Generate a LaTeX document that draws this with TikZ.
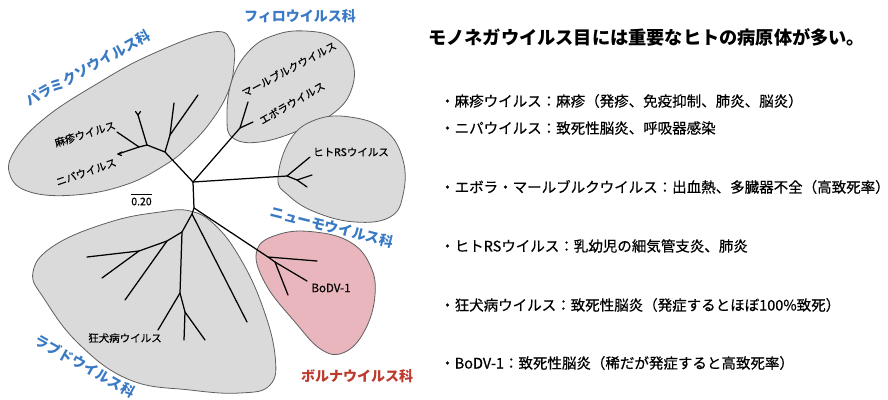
\documentclass[tikz,border=0pt]{standalone}
\usepackage{fontspec}
\setmainfont{Noto Sans CJK JP}
\newfontfamily\medfont[FakeBold=0.5]{Noto Sans CJK JP}
\definecolor{famblue}{RGB}{58,122,196}
\definecolor{famred}{RGB}{190,58,45}
\definecolor{blobgray}{RGB}{218,218,218}
\definecolor{blobpink}{RGB}{232,182,188}
\definecolor{edgegray}{RGB}{95,95,95}
\tikzset{
  branch/.style={line width=1.25pt, line cap=round, line join=round},
  blob/.style={draw=edgegray, line width=0.8pt, fill=blobgray},
  pinkblob/.style={draw=edgegray, line width=0.8pt, fill=blobpink},
  fam/.style={font=\bfseries\fontsize{14}{16}\selectfont, text=famblue, inner sep=0pt},
  famr/.style={font=\bfseries\fontsize{14}{16}\selectfont, text=famred, inner sep=0pt},
  lbl/.style={font=\medfont\fontsize{10.5}{12}\selectfont, inner sep=0pt},
  item/.style={anchor=west, font=\medfont\fontsize{14.5}{16}\selectfont, inner sep=0pt},
}
\begin{document}
\begin{tikzpicture}[x=1pt,y=-1pt]
\useasboundingbox (0,0) rectangle (888,399);
% blobs
\draw[blob] plot[smooth cycle, tension=0.7] coordinates {(213,32) (232,43) (234,65) (228,92) (212,120) (190,145) (165,165) (125,185) (75,195) (30,192) (10,175) (15,150) (45,118) (95,85) (150,55)};
\draw[blob] plot[smooth cycle, tension=0.7] coordinates {(227,118) (232,80) (250,50) (275,35) (305,31) (335,38) (352,60) (352,88) (335,112) (300,130) (260,142) (233,138)};
\draw[blob] plot[smooth cycle, tension=0.7] coordinates {(278,178) (290,140) (315,120) (350,117) (385,130) (403,160) (403,195) (390,217) (355,222) (315,212) (288,195)};
\draw[pinkblob] plot[smooth cycle, tension=0.7] coordinates {(257,250) (280,234) (315,232) (350,242) (370,265) (375,295) (365,330) (345,352) (322,350) (295,322) (265,283)};
\draw[blob] plot[smooth cycle, tension=0.7] coordinates {(190,211) (215,225) (240,258) (262,305) (275,355) (270,385) (240,393) (190,390) (130,380) (80,345) (45,300) (33,272) (55,245) (110,222) (160,212)};
% tree coordinates
\coordinate (U) at (193,182);
\coordinate (L) at (194,208);
\coordinate (P4) at (165,152);
\coordinate (P3) at (170,135);
\coordinate (P2) at (147,145);
\coordinate (P1) at (139,147);
\coordinate (pa) at (174,103);
\coordinate (pb) at (198,95);
\coordinate (pc) at (138,115);
\coordinate (mea) at (117,132);
\coordinate (nip) at (118,154);
\coordinate (F2) at (240,128);
\coordinate (mar) at (248,102);
\coordinate (ebo) at (253,122);
\coordinate (N1) at (287,176);
\coordinate (N2) at (297,180);
\coordinate (rsv) at (310,157);
\coordinate (na) at (312,175);
\coordinate (nb) at (307,187);
\coordinate (B1) at (268,257);
\coordinate (B2) at (275,262);
\coordinate (ba) at (317,261);
\coordinate (bb) at (307,281);
\coordinate (bc) at (288,295);
\coordinate (R0) at (192,214);
\coordinate (R1) at (182,232);
\coordinate (R2) at (167,241);
\coordinate (R2b) at (139,251);
\coordinate (R3) at (180,293);
\coordinate (R4) at (185,312);
\coordinate (ra) at (247,322);
\coordinate (rb) at (87,257);
\coordinate (rc) at (102,278);
\coordinate (rd) at (125,300);
\coordinate (re) at (158,330);
\coordinate (rf) at (184,340);
\coordinate (rg) at (205,340);
% tree edges
\draw[branch] (U) -- (L);
\draw[branch] (U) -- (P4) -- (P3) -- (pa);
\draw[branch] (P3) -- (pb);
\draw[branch] (P4) -- (P2) -- (pc);
\draw[branch] (P2) -- (P1) -- (mea);
\draw[branch] (P1) -- (nip);
\draw[branch] (pc) -- ++(-2.5,-3.5);
\draw[branch] (pc) -- ++(2.5,-3.5);
\draw[branch] (nip) -- ++(4,-2);
\draw[branch] (nip) -- ++(3.5,1.5);
\draw[branch] (U) -- (F2) -- (mar);
\draw[branch] (F2) -- (ebo);
\draw[branch] (U) -- (N1) -- (rsv);
\draw[branch] (N1) -- (N2) -- (na);
\draw[branch] (N2) -- (nb);
\draw[branch] (L) -- (B1) -- (ba);
\draw[branch] (B1) -- (B2) -- (bb);
\draw[branch] (B2) -- (bc);
\draw[branch] (L) -- (R0) -- (ra);
\draw[branch] (R0) -- (R1) -- (R2) -- (R2b) -- (rb);
\draw[branch] (R2b) -- (rc);
\draw[branch] (R2) -- (rd);
\draw[branch] (R1) -- (R3) -- (re);
\draw[branch] (R3) -- (R4) -- (rf);
\draw[branch] (R4) -- (rg);
% scale bar
\coordinate (sb1) at (131,194);
\coordinate (sb2) at (152,194);
\draw[line width=1pt] (sb1) -- (sb2);
\node[font=\medfont\fontsize{10.5}{12}\selectfont, inner sep=0pt] (sbl) at (141.5,201.5) {0.20};
% family labels
\node[fam, rotate=29] (paramyxo) at (88,68) {パラミクソウイルス科};
\node[fam] (filo) at (300,16) {フィロウイルス科};
\node[fam, rotate=-14] (pneumo) at (332,227) {ニューモウイルス科};
\node[famr] (borna) at (357,376) {ボルナウイルス科};
\node[fam, rotate=-29] (rhabdo) at (85,366) {ラブドウイルス科};
% virus labels
\node[lbl, rotate=17] (lmea) at (85,134) {麻疹ウイルス};
\node[lbl, rotate=19] (lnip) at (86,172) {ニパウイルス};
\node[lbl, rotate=28] (lmar) at (289,69) {マールブルクウイルス};
\node[lbl, rotate=30] (lebo) at (292,103) {エボラウイルス};
\node[lbl] (lrsv) at (351,152) {ヒトRSウイルス};
\node[lbl, font=\medfont\fontsize{11.5}{13}\selectfont] (lbodv) at (331,288) {BoDV-1};
\node[lbl] (lrab) at (125,338) {狂犬病ウイルス};
% right side text
\node[anchor=west, font=\bfseries\fontsize{18.2}{20}\selectfont, inner sep=0pt] (title) at (428,37) {モノネガウイルス目には重要なヒトの病原体が多い。};
\node[item] (i1) at (440,101) {・麻疹ウイルス：麻疹（発疹、免疫抑制、肺炎、脳炎）};
\node[item] (i2) at (440,128) {・ニパウイルス：致死性脳炎、呼吸器感染};
\node[item] (i3) at (440,187) {・エボラ・マールブルクウイルス：出血熱、多臓器不全（高致死率）};
\node[item] (i4) at (440,246) {・ヒトRSウイルス：乳幼児の細気管支炎、肺炎};
\node[item] (i5) at (440,305) {・狂犬病ウイルス：致死性脳炎（発症するとほぼ100\%致死）};
\node[item] (i6) at (440,363) {・BoDV-1：致死性脳炎（稀だが発症すると高致死率）};
\end{tikzpicture}
\end{document}
